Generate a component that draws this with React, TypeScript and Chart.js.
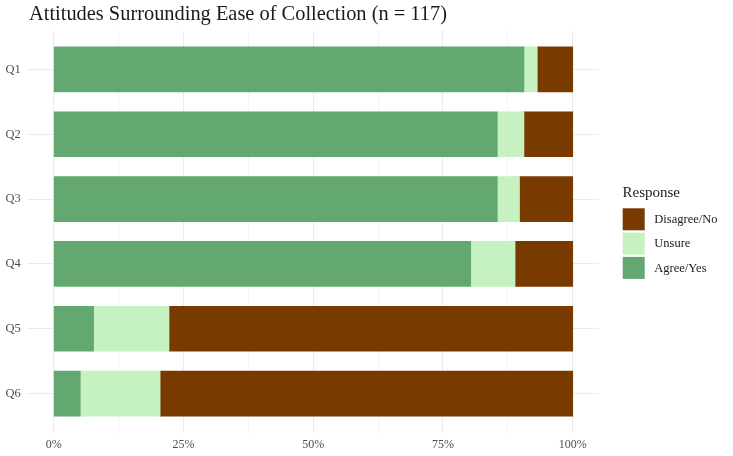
import React, { useEffect, useRef } from "react";
import { Chart, registerables } from "chart.js";

Chart.register(...registerables);

const N = 117;
const questions = ["Q1", "Q2", "Q3", "Q4", "Q5", "Q6"];
const agreeCounts = [106, 100, 100, 94, 9, 6];
const unsureCounts = [3, 6, 5, 10, 17, 18];
const disagreeCounts = [8, 11, 12, 13, 91, 93];
const xTickValues = [0, 0.125, 0.25, 0.375, 0.5, 0.625, 0.75, 0.875, 1];
const xTickLabels: Record<string, string> = { "0": "0%", "0.25": "25%", "0.5": "50%", "0.75": "75%", "1": "100%" };
const titleText = "Attitudes Surrounding Ease of Collection (n = 117)";
const legendTitle = "Response";
const colors = { agree: "#63a870", unsure: "#c6f1c1", disagree: "#793a00" };

const FONT = "'Liberation Serif', 'DejaVu Serif', serif";

const overlayPlugin = {
  id: "overlay",
  afterDraw(chart: any) {
    const ctx = chart.ctx;
    ctx.save();
    // title
    ctx.fillStyle = "#1a1a1a";
    ctx.font = `20.4px ${FONT}`;
    ctx.textAlign = "left";
    ctx.textBaseline = "alphabetic";
    ctx.fillText(titleText, 29, 19.5);
    // legend (reversed order, like ggplot)
    ctx.font = `15px ${FONT}`;
    ctx.fillText(legendTitle, 622.5, 196.5);
    const items = [...chart.data.datasets].reverse();
    items.forEach((ds: any, i: number) => {
      const y = 208.3 + i * 24.3;
      ctx.fillStyle = ds.backgroundColor;
      ctx.fillRect(622.7, y, 22, 22);
      ctx.fillStyle = "#1a1a1a";
      ctx.font = `12.5px ${FONT}`;
      ctx.textBaseline = "middle";
      ctx.fillText(ds.label, 654.3, y + 11.5);
      ctx.textBaseline = "alphabetic";
    });
    ctx.restore();
  },
};

export default function App() {
  const ref = useRef<HTMLCanvasElement>(null);
  useEffect(() => {
    document.body.style.margin = "0";
    const toPts = (arr: number[]) => arr.map((c, i) => ({ x: c / N, y: i }));
    const chart = new Chart(ref.current!, {
      type: "bar",
      data: {
        datasets: [
          { label: "Agree/Yes", data: toPts(agreeCounts), backgroundColor: colors.agree },
          { label: "Unsure", data: toPts(unsureCounts), backgroundColor: colors.unsure },
          { label: "Disagree/No", data: toPts(disagreeCounts), backgroundColor: colors.disagree },
        ],
      },
      options: {
        indexAxis: "y",
        responsive: false,
        animation: false,
        barThickness: 45,
        layout: { padding: { top: 30.5, right: 134.3, bottom: 0, left: 0 } },
        plugins: { legend: { display: false }, title: { display: false }, tooltip: { enabled: false } },
        scales: {
          x: {
            type: "linear",
            stacked: true,
            min: -0.05,
            max: 1.05,
            offset: false,
            afterBuildTicks: (scale: any) => {
              scale.ticks = xTickValues.map((v) => ({ value: v }));
            },
            afterFit: (scale: any) => {
              scale.height = 23.5;
            },
            grid: {
              drawTicks: false,
              offset: false,
              color: (c: any) => (xTickLabels[String(c.tick?.value)] ? "#ebebeb" : "#f3f3f3"),
              lineWidth: 1,
            },
            border: { display: false },
            ticks: {
              padding: 5,
              autoSkip: false,
              maxRotation: 0,
              color: "#4d4d4d",
              font: { family: FONT, size: 12 },
              callback: (v: any) => xTickLabels[String(v)] ?? "",
            },
          },
          y: {
            type: "linear",
            stacked: true,
            reverse: true,
            min: -0.6,
            max: 5.6,
            offset: false,
            afterBuildTicks: (scale: any) => {
              scale.ticks = questions.map((_, i) => ({ value: i }));
            },
            afterFit: (scale: any) => {
              scale.width = 27.7;
            },
            grid: { drawTicks: false, offset: false, color: "#ebebeb", lineWidth: 1 },
            border: { display: false },
            ticks: {
              padding: 7,
              autoSkip: false,
              color: "#4d4d4d",
              font: { family: FONT, size: 12.5 },
              callback: (v: any) => questions[v] ?? "",
            },
          },
        },
      } as any,
      plugins: [overlayPlugin],
    });
    return () => chart.destroy();
  }, []);
  return (
    <div style={{ position: "absolute", left: 0, top: 0, width: 733, height: 456, background: "#fff" }}>
      <canvas ref={ref} width={733} height={456} style={{ display: "block" }} />
    </div>
  );
}
